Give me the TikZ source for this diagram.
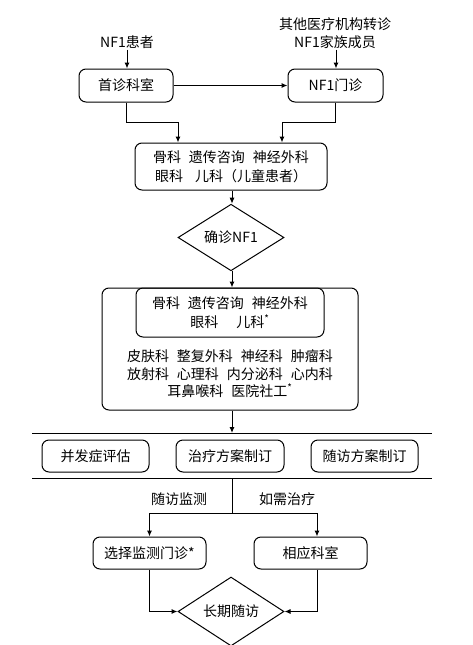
\documentclass[tikz,border=0pt]{standalone}
\usepackage{fontspec}
\setmainfont{Noto Sans CJK SC}
\usetikzlibrary{arrows.meta,shapes.geometric}
\begin{document}
\begin{tikzpicture}[x=1pt,y=-1pt,
  font=\fontsize{14}{18}\selectfont,
  box/.style={draw, rounded corners=7pt, line width=1pt, inner sep=0pt, align=center},
  dia/.style={draw, diamond, inner sep=0pt, line width=1pt, minimum width=106pt, minimum height=49pt},
  arr/.style={-{Latex[length=6pt,width=5pt]}, line width=1pt},
  ln/.style={line width=1pt},
  lbl/.style={inner sep=1pt, align=center}]
\useasboundingbox (0,0) rectangle (472,645);
\def\g{\hspace{8pt}}
% top inputs
\node[lbl] (p) at (127,42) {NF1患者};
\node[lbl, font=\fontsize{14}{18}\selectfont] (o) at (335,33) {其他医疗机构转诊\\NF1家族成员};
\node[box, minimum width=94pt, minimum height=33pt] (b1) at (126,85.5) {首诊科室};
\node[box, minimum width=95pt, minimum height=33pt] (b2) at (335.5,85.5) {NF1门诊};
\node[box, minimum width=192pt, minimum height=47pt, font=\fontsize{14}{19}\selectfont] (b3) at (231,166.5)
  {骨科\g 遗传咨询\g 神经外科\\眼科\hspace{12pt}儿科（儿童患者）};
\node[dia] (d1) at (231,237.5) {确诊NF1};
\node[box, minimum width=256pt, minimum height=122pt] (outer) at (230,349) {};
\node[box, minimum width=188pt, minimum height=49pt, font=\fontsize{14}{19}\selectfont] (inner) at (230,312.5)
  {骨科\g 遗传咨询\g 神经外科\\眼科\hspace{18pt}儿科\textsuperscript{*}};
\node[lbl, font=\fontsize{14}{17.5}\selectfont] (deps) at (230,374)
  {皮肤科\g 整复外科\g 神经科\g 肿瘤科\\放射科\g 心理科\g 内分泌科\g 心内科\\耳鼻喉科\g 医院社工\textsuperscript{*}};
% separator lines
\coordinate (l1a) at (32,433); \coordinate (l1b) at (432,433);
\coordinate (l2a) at (32,478); \coordinate (l2b) at (432,478);
\draw[ln] (l1a) -- (l1b);
\draw[ln] (l2a) -- (l2b);
\node[box, minimum width=107pt, minimum height=32pt] (c1) at (95.5,456) {并发症评估};
\node[box, minimum width=108pt, minimum height=32pt] (c2) at (230,456) {治疗方案制订};
\node[box, minimum width=107pt, minimum height=32pt] (c3) at (364.5,456) {随访方案制订};
% branch
\coordinate (j) at (232,513);
\node[lbl] (t1) at (179,499) {随访监测};
\node[lbl] (t2) at (287,499) {如需治疗};
\node[box, minimum width=113pt, minimum height=32pt] (e1) at (149.5,553) {选择监测门诊*};
\node[box, minimum width=113pt, minimum height=32pt] (e2) at (310.5,553) {相应科室};
\node[dia] (d2) at (231,611.5) {长期随访};
% connectors
\draw[arr] (p.south) -- (p.south |- b1.north);
\draw[arr] ([xshift=1pt]o.south) -- ([xshift=1pt]o.south |- b2.north);
\draw[arr] (b1.east) -- (b2.west);
\draw[arr] (b1.south) -- ++(0,20) -| ([xshift=-53pt]b3.north);
\draw[arr] (b2.south) -- ++(0,20) -| ([xshift=51pt]b3.north);
\draw[arr] ([xshift=1pt]b3.south) -- ([xshift=1pt]d1.north);
\draw[arr] ([xshift=1pt]d1.south) -- ([xshift=1pt]d1.south |- outer.north);
\draw[arr] ([xshift=2pt]outer.south) -- ([xshift=2pt]outer.south |- l1a);
\draw[ln] (j |- l2a) -- (j);
\draw[arr] (j) -| (e1.north);
\draw[arr] (j) -| ([xshift=6.5pt]e2.north);
\draw[arr] (e1.south) |- (d2.west);
\draw[arr] ([xshift=6.5pt]e2.south) |- (d2.east);
\end{tikzpicture}
\end{document}
